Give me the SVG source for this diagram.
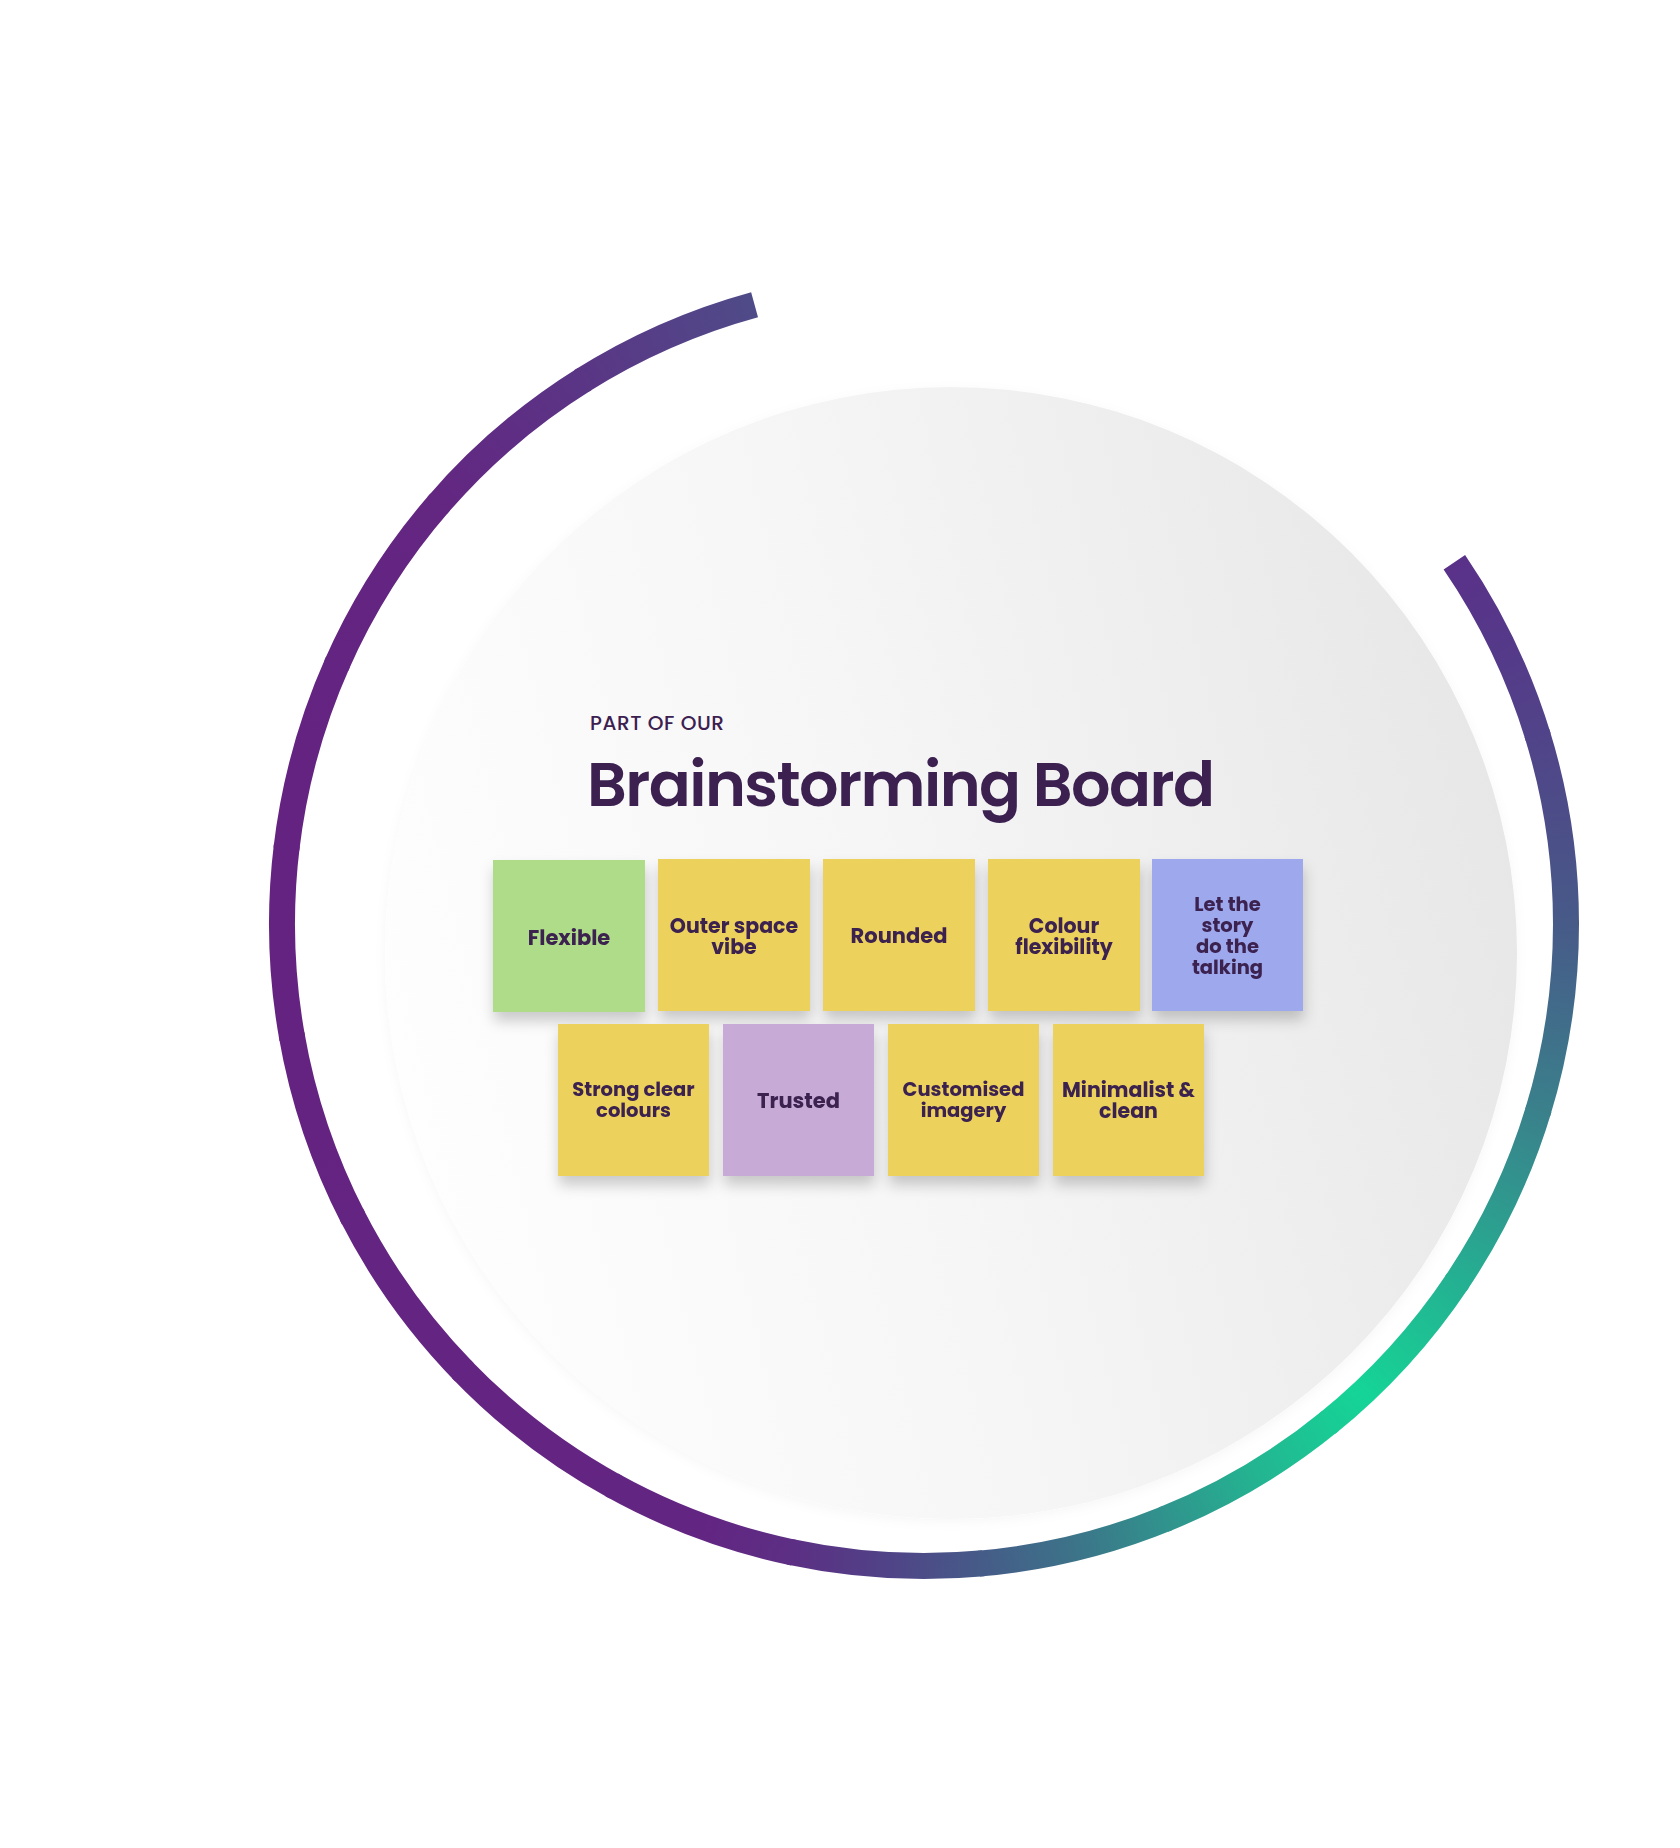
<svg xmlns="http://www.w3.org/2000/svg" width="1680" height="1848" viewBox="0 0 1680 1848">
<style>
.seg{fill:none;stroke-width:26;stroke-dasharray:194.97 4000}
.segl{fill:none;stroke-width:26;stroke-dasharray:190.49 4000}
.note{filter:url(#ns)}
.y{fill:#ecd15b}
.g{fill:#aedc88}
.l{fill:#c7abd6}
.b{fill:#9ea8ec}
.t{font-family:"Poppins","Liberation Sans",Arial,sans-serif;font-weight:700;font-size:20.5px;fill:#3b2050;text-anchor:middle}
.s1{font-size:21px}
.s3{font-size:19.5px}
.h1{font-family:"Poppins","Liberation Sans",Arial,sans-serif;font-weight:600;font-size:62px;fill:#3b2050}
.h2{font-family:"Poppins","Liberation Sans",Arial,sans-serif;font-weight:500;font-size:20px;fill:#3b2050}
</style>
<defs>
<filter id="ns" x="-25%" y="-25%" width="150%" height="160%">
<feDropShadow dx="1" dy="9" stdDeviation="7" flood-color="#000" flood-opacity="0.2"/>
</filter>
<filter id="cs" x="-10%" y="-10%" width="120%" height="120%">
<feDropShadow dx="0" dy="3" stdDeviation="6" flood-color="#000" flood-opacity="0.035"/>
</filter>
<linearGradient id="bg" x1="0" y1="0.62" x2="1" y2="0.38">
<stop offset="0" stop-color="#fefefe"/>
<stop offset="0.45" stop-color="#f6f6f6"/>
<stop offset="1" stop-color="#e7e7e7"/>
</linearGradient>
<linearGradient id="rg0" gradientUnits="userSpaceOnUse" x1="1566" y1="924" x2="1537.95" y2="1111.7"><stop offset="0" stop-color="#5a3189"/><stop offset="0.5" stop-color="#553989"/><stop offset="1" stop-color="#514389"/></linearGradient>
<linearGradient id="rg1" gradientUnits="userSpaceOnUse" x1="1566" y1="924" x2="1537.95" y2="1111.7"><stop offset="0" stop-color="#514389"/><stop offset="0.5" stop-color="#4c4e88"/><stop offset="1" stop-color="#475a88"/></linearGradient>
<linearGradient id="rg2" gradientUnits="userSpaceOnUse" x1="1566" y1="924" x2="1537.95" y2="1111.7"><stop offset="0" stop-color="#475a88"/><stop offset="0.5" stop-color="#416c8a"/><stop offset="1" stop-color="#3a808b"/></linearGradient>
<linearGradient id="rg3" gradientUnits="userSpaceOnUse" x1="1566" y1="924" x2="1537.95" y2="1111.7"><stop offset="0" stop-color="#3a808b"/><stop offset="0.5" stop-color="#30978e"/><stop offset="1" stop-color="#24b092"/></linearGradient>
<linearGradient id="rg4" gradientUnits="userSpaceOnUse" x1="1566" y1="924" x2="1537.95" y2="1111.7"><stop offset="0" stop-color="#24b092"/><stop offset="0.5" stop-color="#1bc894"/><stop offset="0.78" stop-color="#15d497"/><stop offset="1" stop-color="#19cc95"/></linearGradient>
<linearGradient id="rg5" gradientUnits="userSpaceOnUse" x1="1566" y1="924" x2="1537.95" y2="1111.7"><stop offset="0" stop-color="#19cc95"/><stop offset="0.5" stop-color="#24b391"/><stop offset="1" stop-color="#30948d"/></linearGradient>
<linearGradient id="rg6" gradientUnits="userSpaceOnUse" x1="1566" y1="924" x2="1537.95" y2="1111.7"><stop offset="0" stop-color="#30948d"/><stop offset="0.5" stop-color="#3c7489"/><stop offset="1" stop-color="#455c88"/></linearGradient>
<linearGradient id="rg7" gradientUnits="userSpaceOnUse" x1="1566" y1="924" x2="1537.95" y2="1111.7"><stop offset="0" stop-color="#455c88"/><stop offset="0.5" stop-color="#504387"/><stop offset="1" stop-color="#5c2f84"/></linearGradient>
<linearGradient id="rg8" gradientUnits="userSpaceOnUse" x1="1566" y1="924" x2="1537.95" y2="1111.7"><stop offset="0" stop-color="#5c2f84"/><stop offset="0.5" stop-color="#632582"/><stop offset="1" stop-color="#632582"/></linearGradient>
<linearGradient id="rg9" gradientUnits="userSpaceOnUse" x1="1566" y1="924" x2="1537.95" y2="1111.7"><stop offset="0" stop-color="#632582"/><stop offset="0.5" stop-color="#642482"/><stop offset="1" stop-color="#642482"/></linearGradient>
<linearGradient id="rg10" gradientUnits="userSpaceOnUse" x1="1566" y1="924" x2="1537.95" y2="1111.7"><stop offset="0" stop-color="#642482"/><stop offset="0.5" stop-color="#642482"/><stop offset="1" stop-color="#642481"/></linearGradient>
<linearGradient id="rg11" gradientUnits="userSpaceOnUse" x1="1566" y1="924" x2="1537.95" y2="1111.7"><stop offset="0" stop-color="#642481"/><stop offset="0.5" stop-color="#652381"/><stop offset="1" stop-color="#652381"/></linearGradient>
<linearGradient id="rg12" gradientUnits="userSpaceOnUse" x1="1566" y1="924" x2="1537.95" y2="1111.7"><stop offset="0" stop-color="#652381"/><stop offset="1" stop-color="#652381"/></linearGradient>
<linearGradient id="rg13" gradientUnits="userSpaceOnUse" x1="1566" y1="924" x2="1537.95" y2="1111.7"><stop offset="0" stop-color="#652381"/><stop offset="0.5" stop-color="#642381"/><stop offset="1" stop-color="#642481"/></linearGradient>
<linearGradient id="rg14" gradientUnits="userSpaceOnUse" x1="1566" y1="924" x2="1537.95" y2="1111.7"><stop offset="0" stop-color="#642481"/><stop offset="0.5" stop-color="#632581"/><stop offset="1" stop-color="#632681"/></linearGradient>
<linearGradient id="rg15" gradientUnits="userSpaceOnUse" x1="1566" y1="924" x2="1537.95" y2="1111.7"><stop offset="0" stop-color="#632681"/><stop offset="0.5" stop-color="#5f2d84"/><stop offset="1" stop-color="#5a3585"/></linearGradient>
<linearGradient id="rg16" gradientUnits="userSpaceOnUse" x1="1566" y1="924" x2="1537.95" y2="1111.7"><stop offset="0" stop-color="#5a3585"/><stop offset="0.5" stop-color="#554087"/><stop offset="1" stop-color="#4f4b88"/></linearGradient>
</defs>

<rect width="1680" height="1848" fill="#ffffff"/>

<g id="board-disc">
<circle cx="951" cy="953" r="566" fill="url(#bg)" filter="url(#cs)"/>
</g>

<g id="ring">
<circle class="seg" cx="924" cy="924" r="642" stroke="url(#rg0)" transform="rotate(-34.3 924 924)"/>
<circle class="seg" cx="924" cy="924" r="642" stroke="url(#rg1)" transform="rotate(-17.3 924 924)"/>
<circle class="seg" cx="924" cy="924" r="642" stroke="url(#rg2)" transform="rotate(-0.3 924 924)"/>
<circle class="seg" cx="924" cy="924" r="642" stroke="url(#rg3)" transform="rotate(16.7 924 924)"/>
<circle class="seg" cx="924" cy="924" r="642" stroke="url(#rg4)" transform="rotate(33.7 924 924)"/>
<circle class="seg" cx="924" cy="924" r="642" stroke="url(#rg5)" transform="rotate(50.7 924 924)"/>
<circle class="seg" cx="924" cy="924" r="642" stroke="url(#rg6)" transform="rotate(67.7 924 924)"/>
<circle class="seg" cx="924" cy="924" r="642" stroke="url(#rg7)" transform="rotate(84.7 924 924)"/>
<circle class="seg" cx="924" cy="924" r="642" stroke="url(#rg8)" transform="rotate(101.7 924 924)"/>
<circle class="seg" cx="924" cy="924" r="642" stroke="url(#rg9)" transform="rotate(118.7 924 924)"/>
<circle class="seg" cx="924" cy="924" r="642" stroke="url(#rg10)" transform="rotate(135.7 924 924)"/>
<circle class="seg" cx="924" cy="924" r="642" stroke="url(#rg11)" transform="rotate(152.7 924 924)"/>
<circle class="seg" cx="924" cy="924" r="642" stroke="url(#rg12)" transform="rotate(169.7 924 924)"/>
<circle class="seg" cx="924" cy="924" r="642" stroke="url(#rg13)" transform="rotate(186.7 924 924)"/>
<circle class="seg" cx="924" cy="924" r="642" stroke="url(#rg14)" transform="rotate(203.7 924 924)"/>
<circle class="seg" cx="924" cy="924" r="642" stroke="url(#rg15)" transform="rotate(220.7 924 924)"/>
<circle class="segl" cx="924" cy="924" r="642" stroke="url(#rg16)" transform="rotate(237.7 924 924)"/>
</g>

<g id="heading">
<text class="h2" x="590" y="730" textLength="134" lengthAdjust="spacing">PART OF OUR</text>
<text class="h1" x="587" y="806" textLength="628" lengthAdjust="spacing">Brainstorming Board</text>
</g>

<g id="note-flexible" class="note">
<rect class="g" x="493" y="860" width="152" height="152"/>
<text class="t s1" x="569" y="945">Flexible</text>
</g>
<g id="note-outer-space" class="note">
<rect class="y" x="658" y="859" width="152" height="152"/>
<text class="t" x="734" y="933">Outer space</text>
<text class="t" x="734" y="954">vibe</text>
</g>
<g id="note-rounded" class="note">
<rect class="y" x="823" y="859" width="152" height="152"/>
<text class="t s1" x="899" y="943">Rounded</text>
</g>
<g id="note-colour" class="note">
<rect class="y" x="988" y="859" width="152" height="152"/>
<text class="t" x="1064" y="933">Colour</text>
<text class="t" x="1064" y="954">flexibility</text>
</g>
<g id="note-story" class="note">
<rect class="b" x="1152" y="859" width="151" height="152"/>
<text class="t s3" x="1227.5" y="911">Let the</text>
<text class="t s3" x="1227.5" y="932">story</text>
<text class="t s3" x="1227.5" y="953">do the</text>
<text class="t s3" x="1227.5" y="974">talking</text>
</g>
<g id="note-strong" class="note">
<rect class="y" x="558" y="1024" width="151" height="152"/>
<text class="t s3" x="633.5" y="1096">Strong clear</text>
<text class="t s3" x="633.5" y="1117">colours</text>
</g>
<g id="note-trusted" class="note">
<rect class="l" x="723" y="1024" width="151" height="152"/>
<text class="t s1" x="798.5" y="1108">Trusted</text>
</g>
<g id="note-customised" class="note">
<rect class="y" x="888" y="1024" width="151" height="152"/>
<text class="t s3" x="963.5" y="1096">Customised</text>
<text class="t s3" x="963.5" y="1117">imagery</text>
</g>
<g id="note-minimalist" class="note">
<rect class="y" x="1053" y="1024" width="151" height="152"/>
<text class="t" x="1128.5" y="1097">Minimalist &amp;</text>
<text class="t" x="1128.5" y="1118">clean</text>
</g>
</svg>
